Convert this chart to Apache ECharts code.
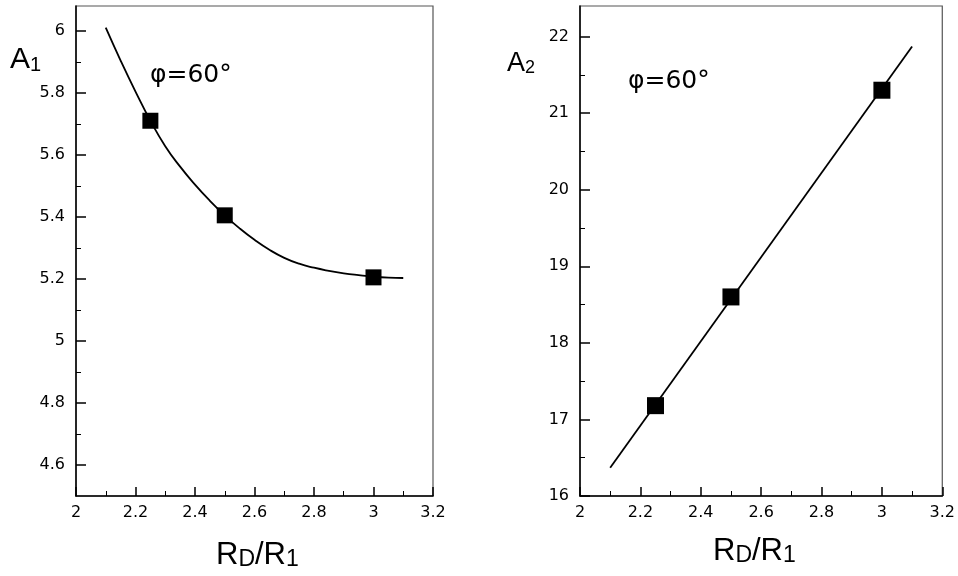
<!DOCTYPE html>
<html>
<head>
<meta charset="utf-8">
<script src="https://cdn.jsdelivr.net/npm/echarts@6/dist/echarts.min.js"></script>
<style>
  html, body { margin: 0; padding: 0; background: #fff; }
  #chart { width: 958px; height: 576px; }
</style>
</head>
<body>
<div id="chart"></div>
<script>
// Shared x axis: diameter ratio R_D/R_1
const ratioTicks = [2, 2.2, 2.4, 2.6, 2.8, 3, 3.2];
const ratioMinor = [2.1, 2.3, 2.5, 2.7, 2.9, 3.1];

// Left panel: coefficient A1
const a1Ticks = [4.6, 4.8, 5, 5.2, 5.4, 5.6, 5.8, 6];
const a1Minor = [4.7, 4.9, 5.1, 5.3, 5.5, 5.7, 5.9];
const a1PointsX = [2.25, 2.5, 3];
const a1PointsY = [5.71, 5.405, 5.205];
const a1CurveX = [2.10, 2.15, 2.20, 2.25, 2.30, 2.35, 2.40, 2.45, 2.50, 2.55, 2.60,
                  2.65, 2.70, 2.75, 2.80, 2.85, 2.90, 2.95, 3.00, 3.05, 3.10];
const a1CurveY = [6.010, 5.904, 5.804, 5.710, 5.628, 5.562, 5.504, 5.452, 5.405, 5.363, 5.326,
                  5.294, 5.268, 5.249, 5.236, 5.226, 5.218, 5.212, 5.207, 5.204, 5.203];

// Right panel: coefficient A2
const a2Ticks = [16, 17, 18, 19, 20, 21, 22];
const a2Minor = [16.5, 17.5, 18.5, 19.5, 20.5, 21.5];
const a2PointsX = [2.25, 2.5, 3];
const a2PointsY = [17.18, 18.6, 21.3];
const a2LineX = [2.1, 3.1];
const a2LineY = [16.37, 21.87];

const FONT = '"Liberation Sans", Arial, sans-serif';
const WIDE = '"DejaVu Sans", sans-serif';
const zip = (xs, ys) => xs.map((x, i) => [x, ys[i]]);

const tickLabel = { color: '#000', fontSize: 16, fontFamily: WIDE };

function xAxes(gridIndex) {
  return [
    {
      type: 'value', gridIndex, min: 2, max: 3.2, position: 'bottom',
      axisLine: { onZero: false, lineStyle: { color: '#000', width: 1.5 } },
      axisTick: { inside: true, length: 9, customValues: ratioTicks, lineStyle: { color: '#000', width: 1.5 } },
      axisLabel: Object.assign({ customValues: ratioTicks, margin: 9 }, tickLabel),
      splitLine: { show: false }
    },
    {
      type: 'value', gridIndex, min: 2, max: 3.2, position: 'bottom',
      axisLine: { show: false, onZero: false },
      axisTick: { inside: true, length: 5, customValues: ratioMinor, lineStyle: { color: '#000', width: 1 } },
      axisLabel: { show: false },
      splitLine: { show: false }
    }
  ];
}

function yAxes(gridIndex, min, max, major, minor) {
  return [
    {
      type: 'value', gridIndex, min, max, position: 'left',
      axisLine: { show: true, onZero: false, lineStyle: { color: '#000', width: 1.5 } },
      axisTick: { show: true, inside: true, length: 10, customValues: major, lineStyle: { color: '#000', width: 1.5 } },
      axisLabel: Object.assign({ customValues: major, margin: 11 }, tickLabel),
      splitLine: { show: false }
    },
    {
      type: 'value', gridIndex, min, max, position: 'left',
      axisLine: { show: false, onZero: false },
      axisTick: { show: true, inside: true, length: 5, customValues: minor, lineStyle: { color: '#000', width: 1 } },
      axisLabel: { show: false },
      splitLine: { show: false }
    }
  ];
}

const subRich = {
  b: { fontSize: 30, fontFamily: FONT, color: '#000' },
  s: { fontSize: 20, fontFamily: FONT, color: '#000', verticalAlign: 'bottom' }
};
const axRich = {
  b: { fontSize: 31, fontFamily: FONT, color: '#000' },
  s: { fontSize: 23, fontFamily: FONT, color: '#000', verticalAlign: 'bottom' }
};

const chart = echarts.init(document.getElementById('chart'), null, { renderer: 'canvas' });
chart.setOption({
  animation: false,
  backgroundColor: '#fff',
  textStyle: { fontFamily: WIDE, fontSize: 16, color: '#000' },
  grid: [
    { left: 76, top: 6, width: 357, height: 490, show: true, borderColor: '#555', borderWidth: 1.2, backgroundColor: 'transparent' },
    { left: 580, top: 6, width: 363, height: 490, show: true, borderColor: '#555', borderWidth: 1.2, backgroundColor: 'transparent' }
  ],
  xAxis: [...xAxes(0), ...xAxes(1)],
  yAxis: [
    ...yAxes(0, 4.5, 6.08, a1Ticks, a1Minor),
    ...yAxes(1, 16, 22.4, a2Ticks, a2Minor)
  ],
  series: [
    {
      type: 'line', xAxisIndex: 0, yAxisIndex: 0, data: zip(a1CurveX, a1CurveY),
      showSymbol: false, smooth: 0.5, lineStyle: { color: '#000', width: 1.8 }, z: 2
    },
    {
      type: 'scatter', xAxisIndex: 0, yAxisIndex: 0, data: zip(a1PointsX, a1PointsY),
      symbol: 'rect', symbolSize: 16, itemStyle: { color: '#000', opacity: 1 }, z: 3
    },
    {
      type: 'line', xAxisIndex: 2, yAxisIndex: 2, data: zip(a2LineX, a2LineY),
      showSymbol: false, lineStyle: { color: '#000', width: 1.8 }, z: 2
    },
    {
      type: 'scatter', xAxisIndex: 2, yAxisIndex: 2, data: zip(a2PointsX, a2PointsY),
      symbol: 'rect', symbolSize: 17, itemStyle: { color: '#000', opacity: 1 }, z: 3
    }
  ],
  graphic: [
    { type: 'text', left: 10, top: 45, style: { text: '{b|A}{s|1}', rich: subRich } },
    { type: 'text', left: 150, top: 63, style: { text: 'φ=60°', fontSize: 25, fontFamily: WIDE, fill: '#000' } },
    { type: 'text', left: 216, top: 540, style: { text: '{b|R}{s|D}{b|/R}{s|1}', rich: axRich } },
    { type: 'text', left: 507, top: 50, style: { text: '{b|A}{s|2}', rich: { b: { fontSize: 27, fontFamily: FONT, color: '#000' }, s: { fontSize: 18, fontFamily: FONT, color: '#000', verticalAlign: 'bottom' } } } },
    { type: 'text', left: 628, top: 69, style: { text: 'φ=60°', fontSize: 25, fontFamily: WIDE, fill: '#000' } },
    { type: 'text', left: 713, top: 536, style: { text: '{b|R}{s|D}{b|/R}{s|1}', rich: axRich } }
  ]
});
</script>
</body>
</html>
